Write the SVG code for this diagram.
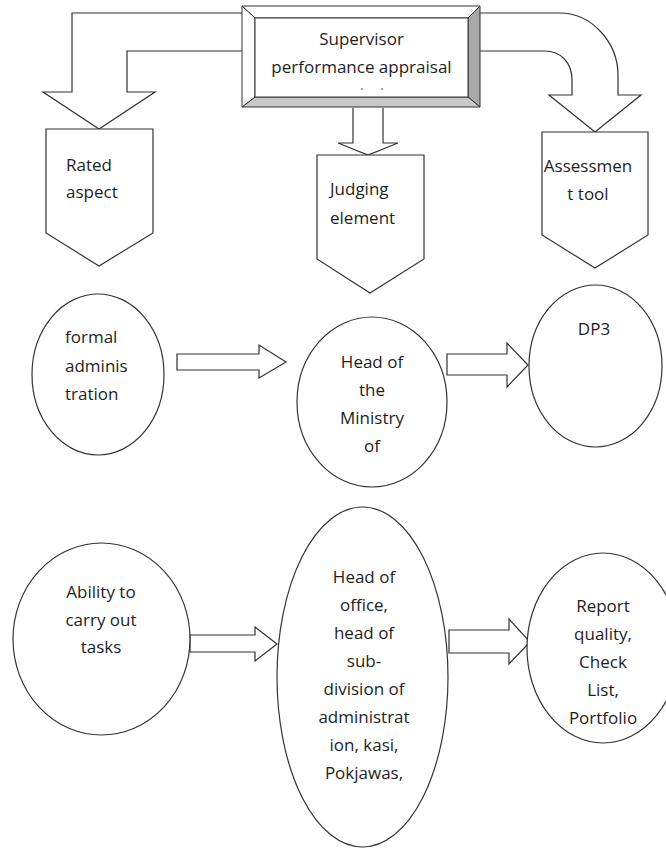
<svg xmlns="http://www.w3.org/2000/svg" width="666" height="849" viewBox="0 0 666 849">
<style>
.s{fill:#fff;stroke:#333;stroke-width:1.2;stroke-linejoin:miter}
.t{font-family:"Open Sans","Liberation Sans",sans-serif;font-size:17px;fill:#1e1e1e}
.m{text-anchor:middle}
</style>
<rect width="666" height="849" fill="#fff"/>
<g id="connectors">
<path class="s" d="M242,13 L72,13 L72,92 L43,92 L99,129 L155,92 L127,92 L127,51 L242,51"/>
<path class="s" d="M480,13 L560,13 C592,13 618,43 618,75 L618,95 L641,95 L595,132 L549,95 L572,95 L572,80 C572,62 560,51 545,51 L480,51"/>
<path class="s" d="M353,108 L353,143 L338,143 L368,155 L398,143 L383,143 L383,108"/>
<path class="s" d="M177,354 L259,354 L259,345 L286,362 L259,378 L259,370 L177,370 Z"/>
<path class="s" d="M447,354 L507,354 L507,343 L528,365 L507,387 L507,375 L447,375 Z"/>
<path class="s" d="M190,635 L255,635 L255,627 L277,644 L255,661 L255,652 L190,652 Z"/>
<path class="s" d="M449,630 L509,630 L509,619 L530,642 L509,664 L509,653 L449,653 Z"/>
</g>
<g id="supervisor">
<rect x="242" y="6" width="238" height="101" fill="#fff" stroke="none"/>
<polygon points="468,18 480,6 480,107 468,97" fill="#a8a8a8" stroke="#333" stroke-width="1"/>
<polygon points="255,97 468,97 480,107 242,107" fill="#c8c8c8" stroke="#333" stroke-width="1"/>
<polygon points="242,6 480,6 468,18 255,18" fill="#fff" stroke="#333" stroke-width="1"/>
<polygon points="242,6 255,18 255,97 242,107" fill="#fff" stroke="#333" stroke-width="1"/>
<rect x="255" y="18" width="213" height="79" fill="#fff" stroke="#333" stroke-width="1"/>
<text class="t m" x="361.5" y="45">Supervisor</text>
<text class="t m" x="361.5" y="73">performance appraisal</text>
<circle cx="362" cy="89" r="0.8" fill="#333"/>
<circle cx="382" cy="89" r="0.8" fill="#333"/>
</g>
<g id="rated-aspect">
<path class="s" d="M46,129 L153,129 L153,233 L99,266 L46,233 Z"/>
<text class="t" x="66" y="171">Rated</text>
<text class="t" x="66" y="198">aspect</text>
</g>
<g id="judging-element">
<path class="s" d="M317,155 L424,155 L424,259 L370,293 L317,259 Z"/>
<text class="t" x="330" y="195">Judging</text>
<text class="t" x="330" y="224">element</text>
</g>
<g id="assessment-tool">
<path class="s" d="M542,132 L648,132 L648,235 L595,268 L542,235 Z"/>
<text class="t m" x="588" y="172">Assessmen</text>
<text class="t m" x="588" y="200">t tool</text>
</g>
<g id="formal">
<ellipse class="s" cx="98" cy="374.5" rx="66" ry="80.5"/>
<text class="t" x="65" y="343">formal</text>
<text class="t" x="65" y="372">adminis</text>
<text class="t" x="65" y="400">tration</text>
</g>
<g id="ministry">
<ellipse class="s" cx="372" cy="402" rx="75" ry="85"/>
<text class="t m" x="372" y="368">Head of</text>
<text class="t m" x="372" y="396">the</text>
<text class="t m" x="372" y="424">Ministry</text>
<text class="t m" x="372" y="452">of</text>
</g>
<g id="dp3">
<ellipse class="s" cx="595.5" cy="366" rx="66.5" ry="81"/>
<text class="t m" x="594" y="335">DP3</text>
</g>
<g id="ability">
<ellipse class="s" cx="101.5" cy="639" rx="88.5" ry="96"/>
<text class="t m" x="101" y="598">Ability to</text>
<text class="t m" x="101" y="626">carry out</text>
<text class="t m" x="101" y="653">tasks</text>
</g>
<g id="head-office">
<ellipse class="s" cx="362.5" cy="677" rx="85.5" ry="170"/>
<text class="t m" x="364" y="583">Head of</text>
<text class="t m" x="364" y="611">office,</text>
<text class="t m" x="364" y="639">head of</text>
<text class="t m" x="364" y="667">sub-</text>
<text class="t m" x="364" y="695">division of</text>
<text class="t m" x="364" y="723">administrat</text>
<text class="t m" x="364" y="751">ion, kasi,</text>
<text class="t m" x="364" y="779">Pokjawas,</text>
</g>
<g id="report">
<ellipse class="s" cx="603" cy="648" rx="76" ry="95"/>
<text class="t m" x="603" y="612">Report</text>
<text class="t m" x="603" y="640">quality,</text>
<text class="t m" x="603" y="668">Check</text>
<text class="t m" x="603" y="696">List,</text>
<text class="t m" x="603" y="724">Portfolio</text>
</g>
</svg>
